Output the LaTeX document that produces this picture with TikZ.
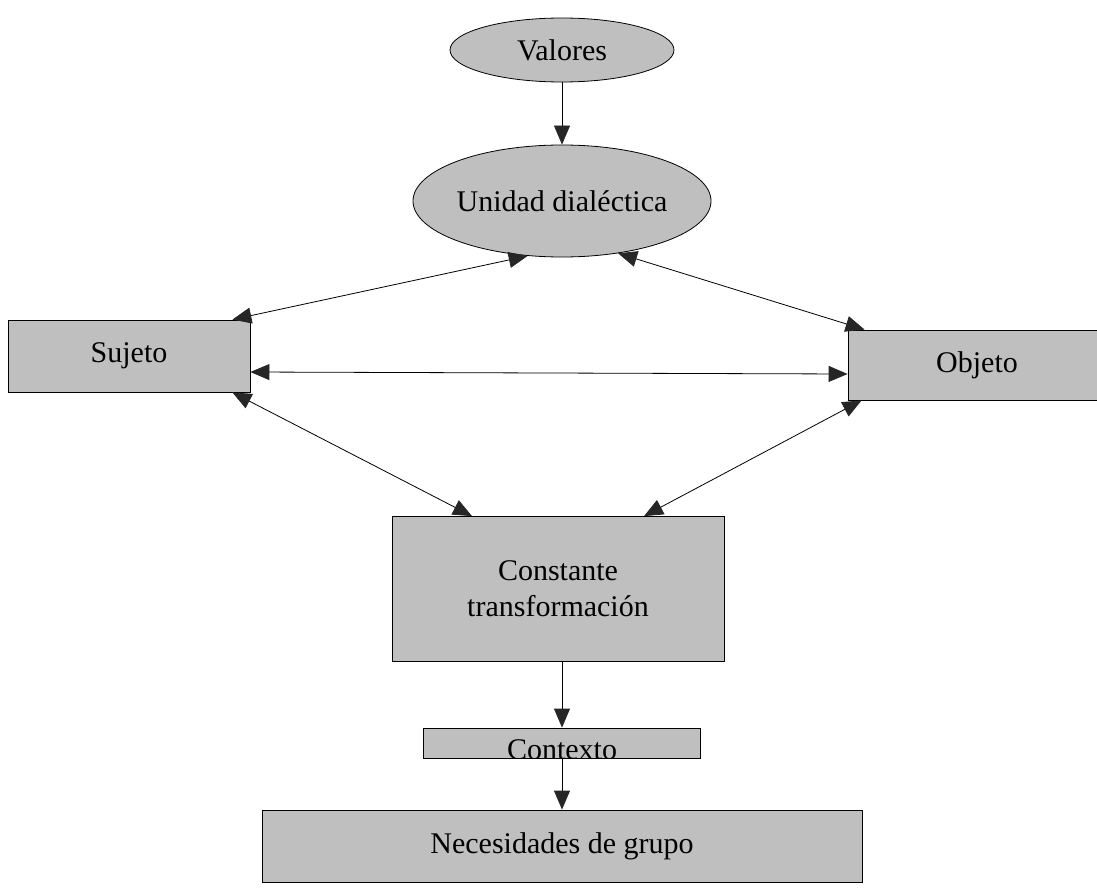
\documentclass[tikz,border=0pt]{standalone}
\usepackage{fontspec}
\setmainfont{Liberation Serif}
\usetikzlibrary{shapes.geometric,arrows.meta,positioning}

\tikzset{
  elipse/.style={draw, ellipse, fill=black!25, line width=0.8pt, inner sep=0pt},
  caja/.style={draw, rectangle, fill=black!25, line width=0.8pt, align=center},
  flecha/.style={line width=0.8pt, -{Triangle[length=19pt,width=16pt,color=black!85]}},
  doble/.style={line width=0.8pt, {Triangle[length=19pt,width=16pt,color=black!85]}-{Triangle[length=19pt,width=16pt,color=black!85]}},
}

\begin{document}
\begin{tikzpicture}[x=1pt, y=1pt, node distance=150pt, font=\fontsize{30}{36}\selectfont]
            \useasboundingbox (0,0) rectangle (1097,-896);

            \node (valores) [elipse, minimum width=224pt, minimum height=64pt] at (562,-50) {Valores};
            \node (unidad) [elipse, minimum width=292pt, minimum height=112pt, below of=valores, yshift=-1pt] {Unidad dialéctica};
            \node (sujeto) [caja, minimum width=242pt, minimum height=72pt] at (129,-356) {Sujeto};
            \node (objeto) [caja, minimum width=258pt, minimum height=70pt] at (977,-365) {Objeto};
            \node (constante) [caja, minimum width=332pt, minimum height=145pt, below of=unidad, yshift=-238pt, xshift=-4pt] {Constante\\transformación};
            \node (contexto) [caja, minimum width=277pt, minimum height=30pt, below of=constante, yshift=-4pt, xshift=4pt] {};
            \node (necesidades) [caja, minimum width=600pt, minimum height=72pt, below of=contexto, yshift=47pt] {Necesidades de grupo};

            % el texto de Contexto queda cortado por el borde
            \begin{scope}
                \clip (contexto.south west) rectangle (contexto.north east);
                \node (contextotxt) [yshift=-7pt] at (contexto) {Contexto};
            \end{scope}

            \draw[flecha] (valores) -- (unidad);
            \draw[doble] (unidad.238) -- ([xshift=-18pt]sujeto.north east);
            \draw[doble] (unidad.317) -- ([xshift=17pt]objeto.north west);
            \draw[doble] ([yshift=-16pt]sujeto.east) -- ([yshift=-9pt]objeto.west);
            \draw[doble] ([xshift=-18pt]sujeto.south east) -- ([xshift=-86pt]constante.north);
            \draw[doble] ([xshift=14pt]objeto.south west) -- ([xshift=86pt]constante.north);
            \draw[flecha] (constante.south -| contexto.north) -- (contexto.north);
            \draw[flecha] (contexto.south) -- (necesidades.north);
        \end{tikzpicture}
\end{document}
